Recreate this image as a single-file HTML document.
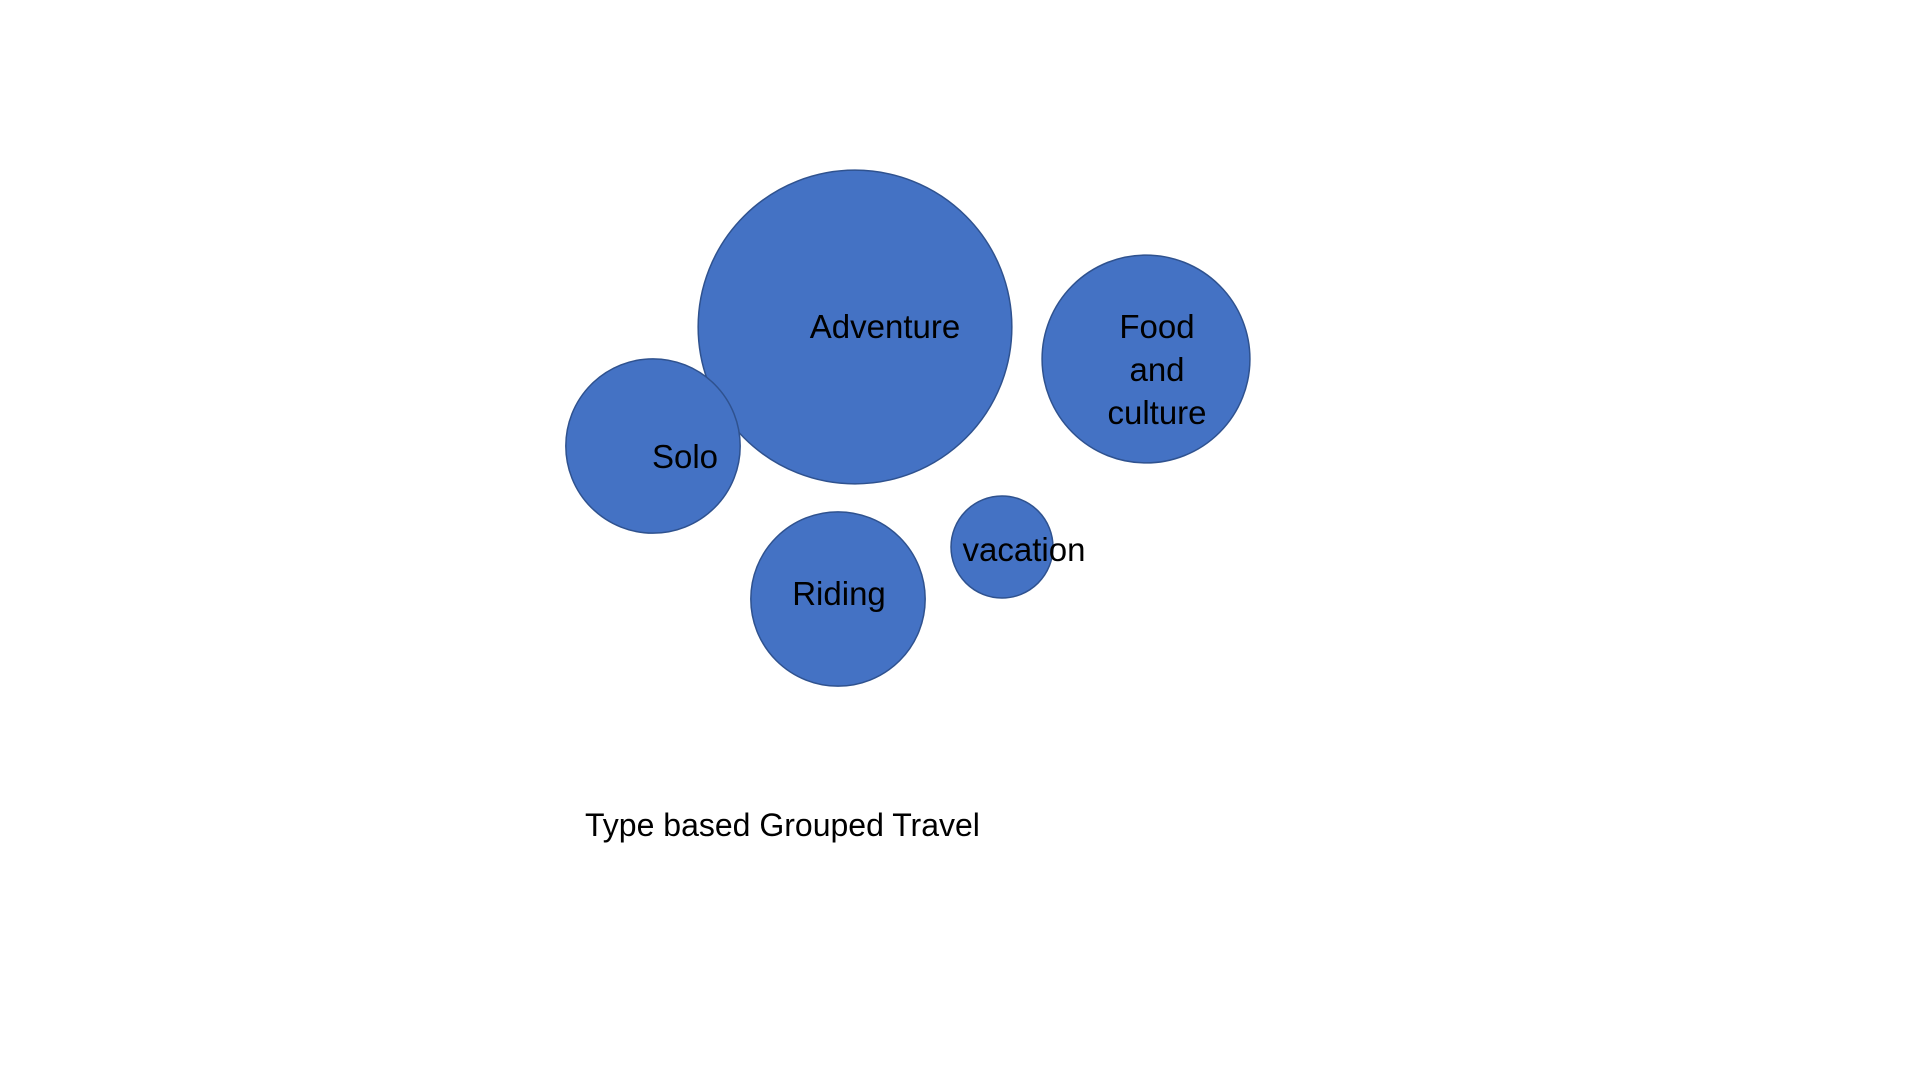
<!DOCTYPE html>
<html><head><meta charset="utf-8"><style>
html,body{margin:0;padding:0;background:#fff;width:1920px;height:1080px;overflow:hidden}
svg text{font-family:"Liberation Sans",sans-serif;fill:#000}
</style></head><body>
<svg id="chart" width="1920" height="1080" xmlns="http://www.w3.org/2000/svg">
<text x="585" y="836" font-size="32">Type based Grouped Travel</text>
</svg>
<script>
const categories = ["Adventure","Solo","Food and culture","Riding","vacation"];
const xValues = [45.5, 25.3, 74.6, 43.8, 60.2];
const yValues = [47.3, 35.4, 44.1, 20.1, 25.3];
const sizeValues = [246, 76, 108, 76, 26];
const labelShift = [30, 32, 11, 1, 22];
const labelDy = [-1, 10, 10, -6, 2];
function xScale(v){return 400 + v*10;}
function yScale(v){return 800 - v*10;}
function rScale(s){return Math.sqrt(s)*10;}
const svg = document.getElementById('chart');
const NS = 'http://www.w3.org/2000/svg';
const title = svg.querySelector('text');
categories.forEach((c,i)=>{
  const cx = xScale(xValues[i]), cy = yScale(yValues[i]), r = rScale(sizeValues[i]);
  const circ = document.createElementNS(NS,'circle');
  
  
  circ.setAttribute('cx',cx); circ.setAttribute('cy',cy); circ.setAttribute('r',r);
  circ.setAttribute('fill','#4472C4'); circ.setAttribute('stroke','#2F528F'); circ.setAttribute('stroke-width','1.5');
  svg.insertBefore(circ,title);
});
categories.forEach((c,i)=>{
  const cx = xScale(xValues[i]) + labelShift[i], cy = yScale(yValues[i]) + labelDy[i];
  const words = c === "Food and culture" ? ["Food","and","culture"] : [c];
  const t = document.createElementNS(NS,'text');
  
  
  t.setAttribute('text-anchor','middle'); t.setAttribute('font-size','33');
  const lh = 43, y0 = cy - (words.length-1)*lh/2 + 12;
  words.forEach((w,j)=>{
    const ts = document.createElementNS(NS,'tspan');
    ts.setAttribute('x',cx); ts.setAttribute('y',y0 + j*lh);
    ts.textContent = w; t.appendChild(ts);
  });
  svg.appendChild(t);
});
</script>
</body></html>
